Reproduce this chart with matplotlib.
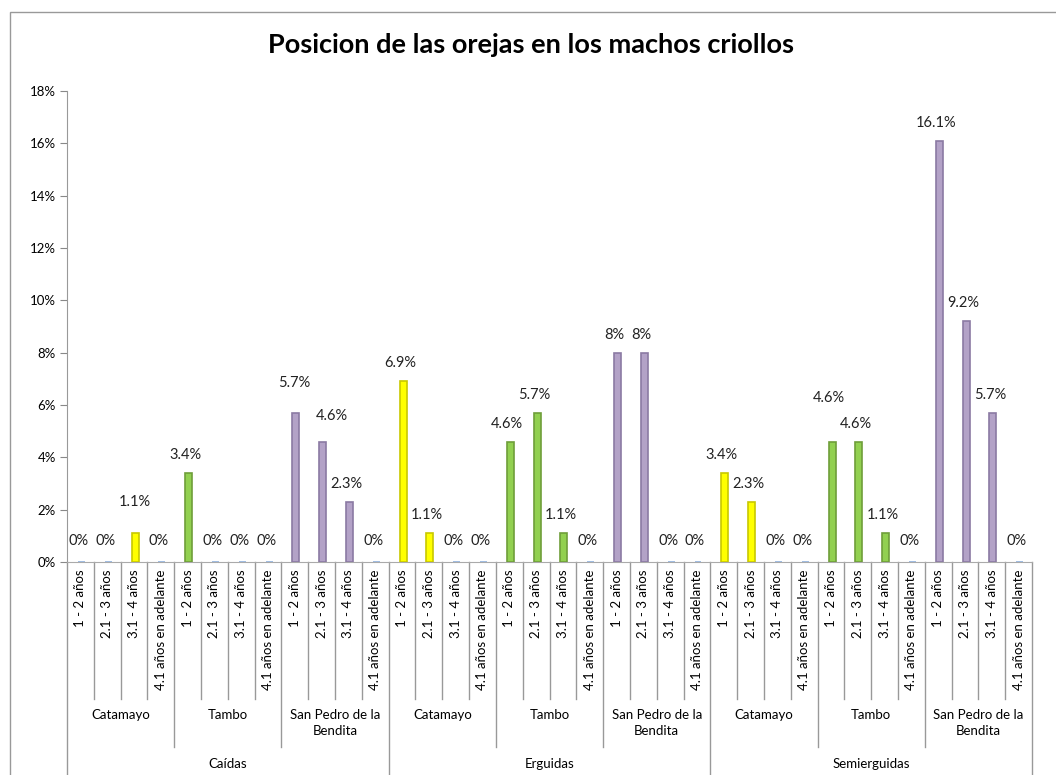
import matplotlib
matplotlib.use('Agg')
import matplotlib.pyplot as plt
import matplotlib.transforms as mtrans
from matplotlib.patches import Rectangle
import numpy as np

plt.rcParams['font.family'] = ['Lato', 'DejaVu Sans']

groups = ['Caídas', 'Erguidas', 'Semierguidas']
places = ['Catamayo', 'Tambo', 'San Pedro de la\nBendita']
ages = ['1 - 2 años', '2.1 - 3 años', '3.1 - 4 años', '4.1 años en adelante']

caidas = [0, 0, 1.1, 0, 3.4, 0, 0, 0, 5.7, 4.6, 2.3, 0]
erguidas = [6.9, 1.1, 0, 0, 4.6, 5.7, 1.1, 0, 8, 8, 0, 0]
semierguidas = [3.4, 2.3, 0, 0, 4.6, 4.6, 1.1, 0, 16.1, 9.2, 5.7, 0]

place_colors = ['#ffff00', '#92d050', '#b3a2c7']
place_edges = ['#c8c800', '#6f9e3a', '#8b7aa3']

# labels excel pushed out of the way (bar index -> pixel offset dx, dy)
label_moves = {2: (0, 31), 8: (-2, 30), 9: (9, 26), 28: (-3, 44)}

values = np.array(caidas + erguidas + semierguidas)
n = len(values)
x = np.arange(n)
colors = [place_colors[(i // 4) % 3] for i in range(n)]
edges = [place_edges[(i // 4) % 3] if values[i] > 0 else '#8fb0dc' for i in range(n)]

fig = plt.figure(figsize=(10.56, 7.75), dpi=100)
ax = fig.add_axes([67 / 1056, 1 - 562 / 775, (1032 - 67) / 1056, (562 - 91) / 775])

ax.bar(x + 0.04, values, width=0.26, color=colors, edgecolor=edges, linewidth=1.2, zorder=3)

def fmt(v):
    s = ('%.1f' % v).rstrip('0').rstrip('.')
    return s + '%'

for xi, v in zip(x, values):
    dx, dy = label_moves.get(xi, (-3, 18 if v > 0 else 21))
    ax.annotate(fmt(v), (xi + 0.04, v), xytext=(dx, dy), textcoords='offset pixels',
                ha='center', va='center', fontsize=10.5, color='#222222')

ax.set_xlim(-0.5, n - 0.5)
ax.set_ylim(0, 18)
ax.set_yticks(np.arange(0, 19, 2))
ax.set_yticklabels(['%d%%' % t for t in np.arange(0, 19, 2)], fontsize=9.5)
ax.tick_params(axis='y', length=5, color='#888888', pad=3)
ax.set_xticks([])
for s in ['top', 'right']:
    ax.spines[s].set_visible(False)
ax.spines['left'].set_color('#999999')
ax.spines['bottom'].set_color('#aaaaaa')

# hierarchical category axis
tr = mtrans.blended_transform_factory(ax.transData, fig.transFigure)
def fy(p):
    return 1 - p / 775

for i in range(n):
    ax.text(i, fy(569), ages[i % 4], transform=tr, rotation=90, ha='center', va='top', fontsize=9.5)
for b in range(n + 1):
    xb = b - 0.5
    if b % 12 == 0:
        bot = 780
    elif b % 4 == 0:
        bot = 747
    else:
        bot = 699
    ax.plot([xb, xb], [fy(562), fy(bot)], transform=tr, color='#999999', lw=1, clip_on=False)

for p in range(9):
    cx = p * 4 + 1.5
    ax.text(cx, fy(709), places[p % 3], transform=tr, ha='center', va='top', fontsize=9.5, linespacing=1.4)
for g in range(3):
    cx = g * 12 + 5.5
    ax.text(cx, fy(764), groups[g], transform=tr, ha='center', va='center', fontsize=9.5)

fig.text(531 / 1056, fy(45), 'Posicion de las orejas en los machos criollos',
         ha='center', va='center', fontsize=19.5, fontweight='bold')

fig.patches.append(Rectangle((10 / 1056, -0.05), 1.1, fy(12) + 0.05, transform=fig.transFigure,
                             fill=False, edgecolor='#999999', lw=1))

fig.savefig('out.png', dpi=100)
